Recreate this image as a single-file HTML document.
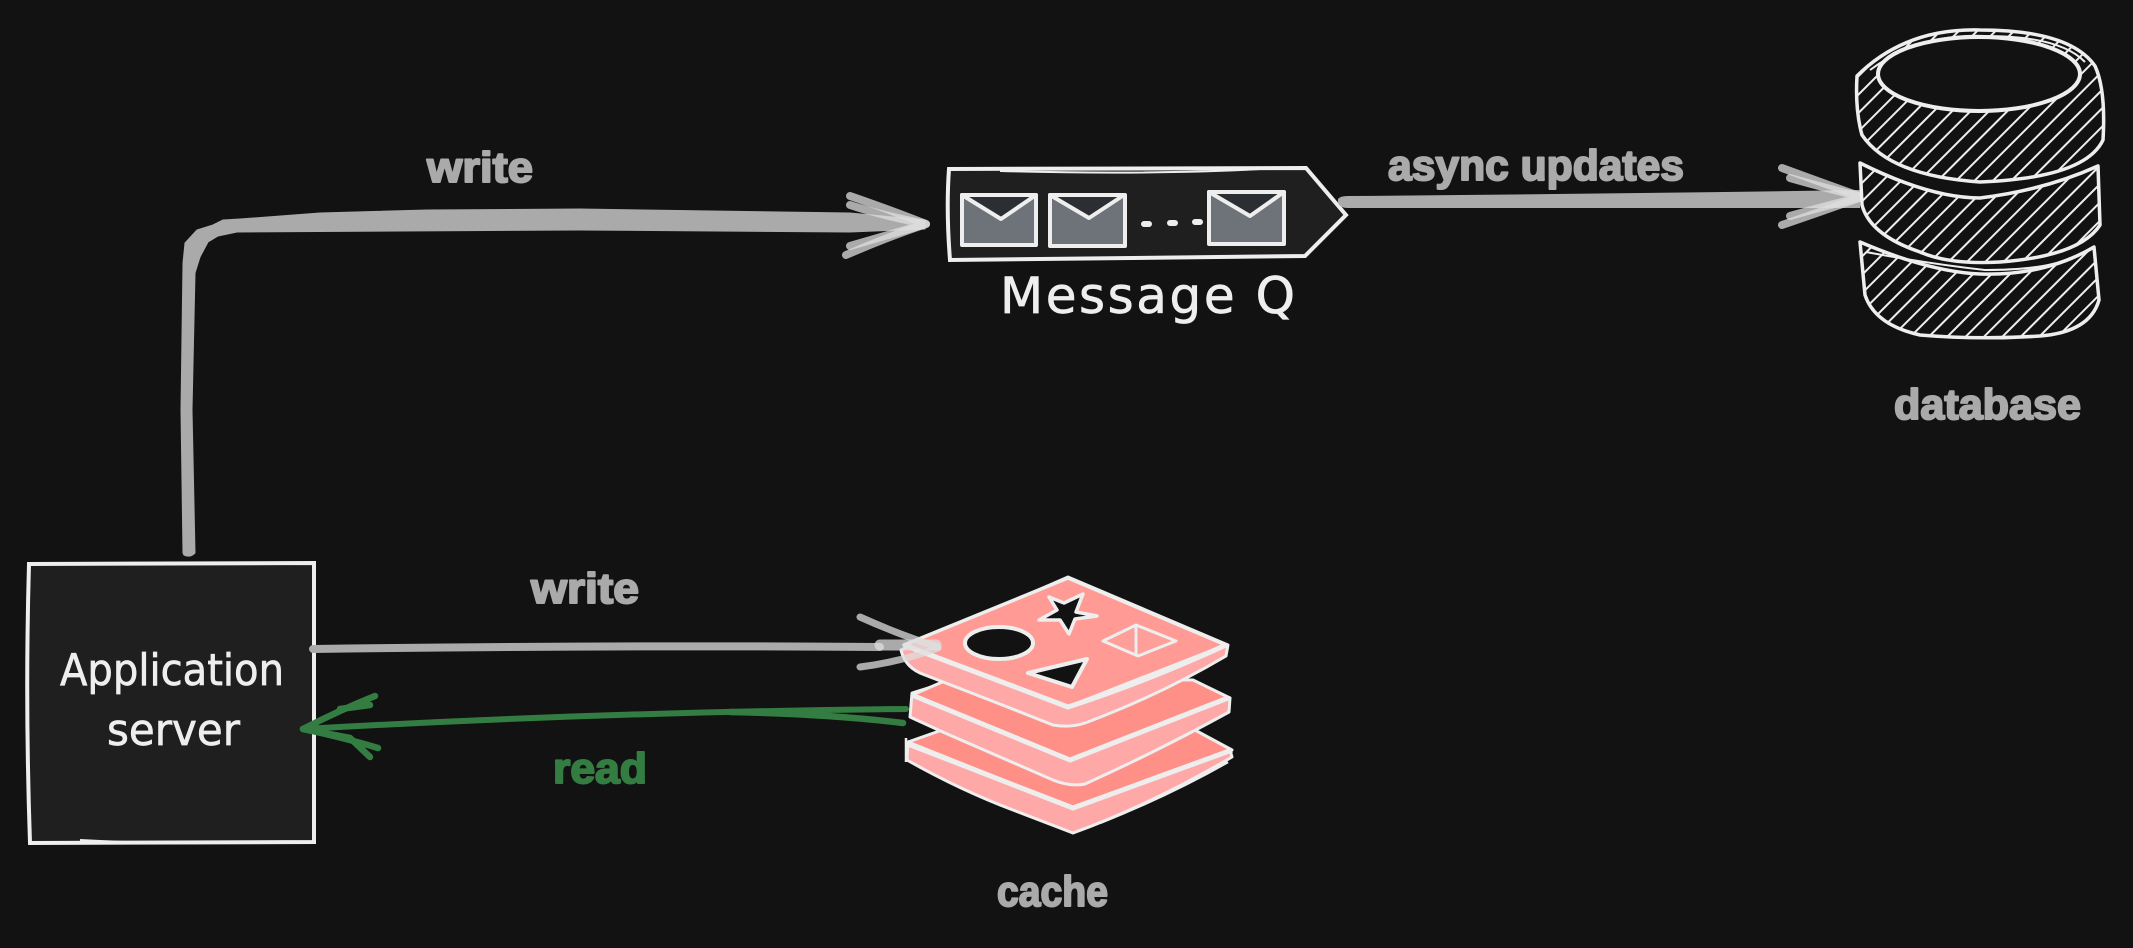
<!DOCTYPE html>
<html><head><meta charset="utf-8"><style>html,body{margin:0;padding:0;background:#121212}svg{display:block}
.l{font-family:"Liberation Sans",sans-serif;font-weight:700;fill:#aaaaaa;stroke:#aaaaaa;stroke-width:2px;stroke-linejoin:round}
.h{font-family:"DejaVu Sans",sans-serif;fill:#eeeeee;stroke:#eeeeee;stroke-width:.7px}
.a{fill:none;stroke:#dddddd;stroke-opacity:.75;stroke-linecap:round;stroke-linejoin:round}
</style></head><body>
<svg width="2133" height="948" viewBox="0 0 2133 948" xmlns="http://www.w3.org/2000/svg">
<defs>
<pattern id="hatch" width="26" height="60" patternUnits="userSpaceOnUse" patternTransform="rotate(45)">
<line x1="3" y1="0" x2="3" y2="60" stroke="#eee" stroke-width="2"/>
<line x1="16" y1="0" x2="16" y2="60" stroke="#eee" stroke-width="2"/>
</pattern>
</defs>
<rect width="2133" height="948" fill="#121212"/>

<!-- Application server -->
<path d="M29 564 L314 563 L314 842 L30 843 Q25 700 29 564Z" fill="#1f1f1f" stroke="#eee" stroke-width="4"/>
<path d="M80 840 Q170 845 270 842" fill="none" stroke="#eee" stroke-width="2"/>
<text class="h" x="60" y="685" font-size="44" textLength="224" lengthAdjust="spacingAndGlyphs">Application</text>
<text class="h" x="107" y="745" font-size="44" textLength="133" lengthAdjust="spacingAndGlyphs">server</text>

<!-- main write arrow -->
<path d="M183 553 L181 410 L183 263 L185 243 L197 230 L213 225 L223 220 L240 219 L320 213 L427 210 L580 209 L850 213 L925 220 L925 229 L850 232 L580 230 L237 232 L218 236 L208 242 L200 257 L195 273 L192 410 L195 553 Q190 558 184 555Z" fill="#aaaaaa" stroke="#aaaaaa" stroke-width="1" stroke-linejoin="round"/>
<g stroke-width="8">
<path class="a" d="M850 196 Q885 208 926 224 Q885 238 846 255"/>
<path class="a" d="M850 205 Q880 215 926 224 Q885 236 850 246"/>
</g>

<!-- message q -->
<path d="M949 169 L1306 168 L1346 215 L1305 256 L950 260 Q946 210 949 169Z" fill="#1f1f1f" stroke="#eee" stroke-width="4"/>
<path d="M1000 171 Q1150 175 1260 169" fill="none" stroke="#eee" stroke-width="2"/>
<g stroke="#eee" stroke-width="4" stroke-linejoin="round">
<rect x="962" y="195" width="74" height="50" fill="#6e7379"/>
<path d="M962 195 L1001 219 L1036 195Z" fill="#2b2f33"/>
<rect x="1050" y="195" width="75" height="51" fill="#6e7379"/>
<path d="M1050 195 L1089 218 L1124 195Z" fill="#2b2f33"/>
<rect x="1209" y="192" width="75" height="52" fill="#6e7379"/>
<path d="M1209 192 L1250 216 L1284 192Z" fill="#2b2f33"/>
</g>
<g stroke="#eee" stroke-width="6" stroke-linecap="round">
<path d="M1144 224 H1149M1170 223 H1175M1195 222 H1200"/>
</g>
<text class="h" x="1000" y="313" font-size="50" textLength="295" lengthAdjust="spacing">Message Q</text>

<!-- async arrow -->
<path d="M1338 199 Q1340 196 1348 196 Q1600 194 1860 190 L1860 208 Q1600 208 1348 208 Q1340 208 1338 203Z" fill="#aaaaaa"/>
<g stroke-width="8">
<path class="a" d="M1782 168 Q1820 182 1862 197 Q1820 212 1782 225"/>
<path class="a" d="M1790 178 Q1825 188 1862 197 Q1825 206 1790 216"/>
</g>

<!-- database -->
<g stroke="#eee" stroke-linejoin="round" fill="#121212">
<path d="M1860 242 Q1930 272 1980 274 Q2045 276 2094 247 L2099 300 Q2090 332 2040 336 Q1980 340 1920 335 Q1875 325 1865 295Z" stroke-width="3.5"/>
<path d="M1860 242 Q1930 272 1980 274 Q2045 276 2094 247 L2099 300 Q2090 332 2040 336 Q1980 340 1920 335 Q1875 325 1865 295Z" fill="url(#hatch)" stroke="none"/>
<path d="M1866 252 Q1930 264 1985 270 Q2045 270 2070 258" fill="none" stroke-width="2"/>
<path d="M1860 163 Q1930 198 1980 198 Q2045 190 2098 166 L2100 225 Q2080 256 2000 262 Q1950 265 1920 252 Q1870 235 1862 205Z" stroke-width="3.5"/>
<path d="M1860 163 Q1930 198 1980 198 Q2045 190 2098 166 L2100 225 Q2080 256 2000 262 Q1950 265 1920 252 Q1870 235 1862 205Z" fill="url(#hatch)" stroke="none"/>
<path d="M1857 76 Q1905 28 1980 30 Q2070 30 2095 66 Q2106 90 2103 140 Q2085 178 1980 182 Q1890 176 1862 135 Q1855 110 1857 76Z" stroke-width="3.5"/>
<path d="M1857 76 Q1905 28 1980 30 Q2070 30 2095 66 Q2106 90 2103 140 Q2085 178 1980 182 Q1890 176 1862 135 Q1855 110 1857 76Z" fill="url(#hatch)" stroke="none"/>
<path d="M1870 70 Q1920 33 1985 36 Q2060 36 2085 62" fill="none" stroke-width="2"/>
<ellipse cx="1979" cy="74" rx="101" ry="37" fill="#121212" stroke-width="4"/>
</g>

<!-- cache -->
<g stroke="#eee" stroke-linejoin="round" stroke-width="4">
<path d="M907 760 Q960 790 1013 810 L1073 833 Q1150 805 1232 757 L1230 750 L1193 732 L945 735 L908 742Z" fill="#ffa8a8" stroke-width="3"/>
<path d="M908 742 L945 729 L1193 729 L1232 750 L1073 808Z" fill="#ff9088" stroke-width="3"/>
<path d="M908 744 L1073 808 L1232 750" fill="none" stroke-width="5"/>
<path d="M906 738 L906 762 M1100 823 Q1170 795 1228 762" fill="none" stroke-width="2.5"/>
<path d="M910 717 L945 733 L1053 780 Q1070 787 1085 784 Q1160 750 1229 712 L1230 698 L1193 682 L947 682 L912 693Z" fill="#ffa8a8" stroke-width="3"/>
<path d="M912 695 L947 680 L1193 680 L1230 698 L1070 760Z" fill="#ff9088" stroke-width="3"/>
<path d="M912 695 L1070 760 L1228 698" fill="none" stroke-width="5"/>
<path d="M901 650 Q905 668 925 675 Q990 700 1053 725 Q1070 728 1085 723 Q1160 695 1226 656 L1228 645 L1068 577Z" fill="#ffa8a8" stroke-width="3"/>
<path d="M904 645 L1068 578 L1226 645 L1068 707Z" fill="#ff9a94" stroke-width="3.5"/>
<path d="M904 645 L1068 707 Q1150 680 1226 645" fill="none" stroke-width="5"/>
<ellipse cx="999" cy="643" rx="34" ry="16" fill="#121212"/>
<path d="M1049 597 L1064 603 L1083 594 L1076 612 L1097 616 L1075 619 L1069 634 L1060 620 L1039 620 L1057 610Z" fill="#121212" stroke-width="3.5"/>
<path d="M1028 673 L1087 659 L1072 687Z" fill="#121212"/>
<path d="M1103 641 L1136 625 L1176 641 L1138 656Z M1136 625 V656" fill="#ff9f99" stroke-width="3"/>
</g>

<!-- write arrow 2 -->
<path d="M313 649 Q600 645 880 647" fill="none" stroke="#aaaaaa" stroke-width="8" stroke-linecap="round"/>
<g stroke-width="7">
<path class="a" d="M860 617 Q900 635 938 647"/>
<path class="a" d="M860 667 Q900 662 938 648"/>
<path class="a" d="M880 645 H936" style="stroke-width:11"/>
</g>

<!-- read arrow -->
<path d="M906 709 Q600 712 304 729" fill="none" stroke="#347d42" stroke-width="6" stroke-linecap="round"/>
<g fill="none" stroke="#347d42" stroke-width="6.5" stroke-linecap="round" stroke-linejoin="round">
<path d="M375 696 Q340 710 303 729 Q345 738 378 748"/>
<path d="M370 705 L340 709 M303 729 L350 738 L370 757"/>
<path d="M730 712 Q830 714 903 723"/>
</g>

<!-- labels -->
<text class="l" x="427" y="182" font-size="43" textLength="106" lengthAdjust="spacingAndGlyphs">write</text>
<text class="l" x="1388" y="180" font-size="43" textLength="296" lengthAdjust="spacingAndGlyphs">async updates</text>
<text class="l" x="1894" y="419" font-size="43" textLength="187" lengthAdjust="spacingAndGlyphs">database</text>
<text class="l" x="531" y="603" font-size="43" textLength="108" lengthAdjust="spacingAndGlyphs">write</text>
<text class="l" x="553" y="783" font-size="43" textLength="94" lengthAdjust="spacingAndGlyphs" style="fill:#347d42;stroke:#347d42">read</text>
<text class="l" x="997" y="906" font-size="43" textLength="111" lengthAdjust="spacingAndGlyphs">cache</text>
</svg>
</body></html>
